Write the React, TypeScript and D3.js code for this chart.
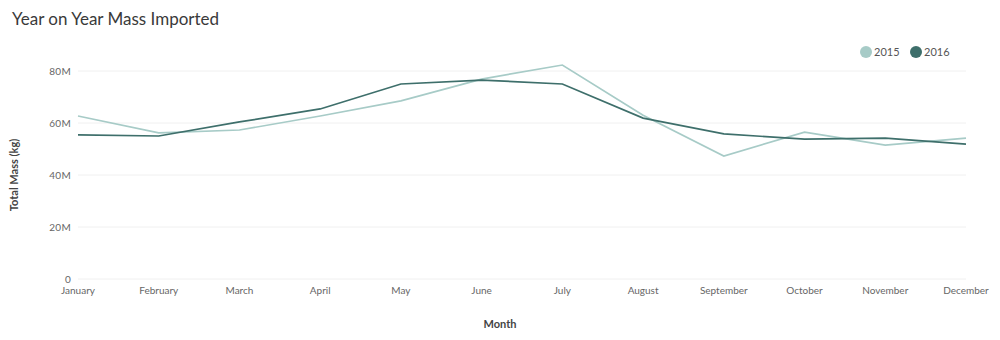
import React, { useEffect, useRef } from "react";
import * as d3 from "d3";

const months = ["January","February","March","April","May","June","July","August","September","October","November","December"];
const series2015 = [62.7, 56.2, 57.3, 62.7, 68.5, 76.9, 82.3, 63.0, 47.3, 56.5, 51.5, 54.2];
const series2016 = [55.4, 55.0, 60.4, 65.4, 75.0, 76.5, 75.0, 61.9, 55.8, 53.8, 54.2, 51.9];
const yTicks = [0, 20, 40, 60, 80];
const seriesNames = ["2015", "2016"];
const seriesColors = ["#a7cbc7", "#3e6f6b"];

export default function App() {
  const ref = useRef<SVGSVGElement>(null);
  useEffect(() => {
    const svg = d3.select(ref.current);
    svg.selectAll("*").remove();
    const font = "Lato, 'Open Sans', sans-serif";
    const x = d3.scalePoint<string>().domain(months).range([78, 966]);
    const y = d3.scaleLinear().domain([0, 80]).range([279, 71]);

    svg.append("text").attr("x", 12).attr("y", 25).text("Year on Year Mass Imported")
      .attr("font-family", font).attr("font-size", 17).attr("fill", "#3a3a3a");

    const g = svg.append("g");
    yTicks.forEach(t => {
      g.append("line").attr("x1", 78).attr("x2", 966).attr("y1", y(t)).attr("y2", y(t))
        .attr("stroke", "#f0f0f0").attr("stroke-width", 1);
      g.append("text").attr("x", 71).attr("y", y(t)).attr("dy", "0.35em").attr("text-anchor", "end")
        .text(t === 0 ? "0" : `${t}M`).attr("font-family", font).attr("font-size", 10).attr("fill", "#666")
        .attr("letter-spacing", 0.3);
    });
    months.forEach(m => {
      g.append("text").attr("x", x(m)!).attr("y", 294).attr("text-anchor", "middle")
        .text(m).attr("font-family", font).attr("font-size", 10).attr("fill", "#666");
    });

    svg.append("text").attr("transform", "translate(18,175) rotate(-90)").attr("text-anchor", "middle")
      .text("Total Mass (kg)").attr("font-family", font).attr("font-size", 11).attr("font-weight", "bold").attr("fill", "#444");
    svg.append("text").attr("x", 500).attr("y", 328).attr("text-anchor", "middle")
      .text("Month").attr("font-family", font).attr("font-size", 11).attr("font-weight", "bold").attr("fill", "#444");

    const line = d3.line<number>().x((_, i) => x(months[i])!).y(d => y(d));
    [series2015, series2016].forEach((s, i) => {
      svg.append("path").attr("d", line(s)).attr("fill", "none")
        .attr("stroke", seriesColors[i]).attr("stroke-width", 1.7);
    });

    const legendX = [866, 916];
    seriesNames.forEach((n, i) => {
      svg.append("circle").attr("cx", legendX[i]).attr("cy", 52).attr("r", 6).attr("fill", seriesColors[i]);
      svg.append("text").attr("x", legendX[i] + 8).attr("y", 52).attr("dy", "0.35em")
        .text(n).attr("font-family", font).attr("font-size", 11).attr("fill", "#555");
    });
  }, []);
  return (
    <svg ref={ref} width={1000} height={340} style={{ position: "absolute", left: 0, top: 0, background: "#fff" }} />
  );
}
